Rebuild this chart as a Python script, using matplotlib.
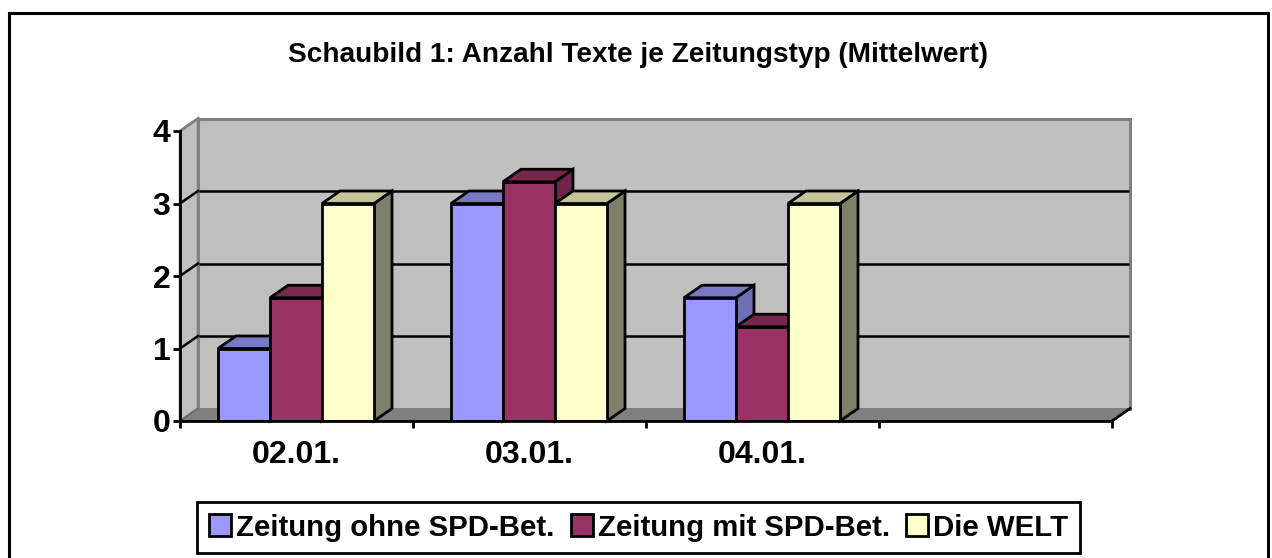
#!/usr/bin/python
import numpy as np
import matplotlib
matplotlib.use('Agg')
import matplotlib.pyplot as plt
from matplotlib.patches import Polygon, Rectangle, Patch

plt.rcParams['font.family'] = ['Liberation Sans', 'DejaVu Sans']

title = 'Schaubild 1: Anzahl Texte je Zeitungstyp (Mittelwert)'
days = ['02.01.', '03.01.', '04.01.', '']
series_names = ['Zeitung ohne SPD-Bet.', 'Zeitung mit SPD-Bet.', 'Die WELT']
ohne_spd = [1.0, 3.0, 1.7]
mit_spd = [1.7, 3.3, 1.3]
die_welt = [3.0, 3.0, 3.0]

front = ['#9999ff', '#993366', '#ffffcc']
top = ['#7878c4', '#78284f', '#c4c49c']
side = ['#6f6fb8', '#6f254a', '#80806a']

W, H = 1272, 558
fig = plt.figure(figsize=(W / 100, H / 100), dpi=100)
# outer frame, runs off the bottom of the picture
fig.add_artist(Rectangle((8.5 / W, -0.02), 1259.5 / W, 1.02 - 12.5 / H, fill=False,
                         ec='black', lw=2.2, transform=fig.transFigure))

# axes = front plane of the fake 3d box
ax = fig.add_axes([180 / W, 1 - 421 / H, 932 / W, 290 / H])
ax.set_xlim(0, 4)
ax.set_ylim(0, 4)
for s in ['top', 'right']:
    ax.spines[s].set_visible(False)
for s in ['left', 'bottom']:
    ax.spines[s].set_linewidth(2)
    ax.spines[s].set_zorder(60)

dx = 18 / 233.0
dy = 12.5 / 72.5
lw = 2.0

# floor, side wall and back wall
ax.add_patch(Polygon([(0, 0), (dx, dy), (4 + dx, dy), (4, 0)], fc='#808080', ec='#555555',
                     lw=1, clip_on=False, zorder=1))
ax.add_patch(Polygon([(0, 0), (dx, dy), (dx, 4 + dy), (0, 4)], fc='#c0c0c0', ec='#808080',
                     lw=1.8, clip_on=False, zorder=1))
ax.add_patch(Rectangle((dx, dy), 4, 4, fc='#c0c0c0', ec='#808080', lw=2.2, clip_on=False, zorder=1))
ax.plot([4, 4 + dx], [0, dy], color='black', lw=lw, clip_on=False, zorder=2)
ax.plot([0, dx], [0, dy], color='#666666', lw=1, clip_on=False, zorder=2)

# gridlines on the back wall, slanted part on the side wall
for v in [1, 2, 3]:
    ax.plot([dx + 0.005, 4 + dx - 0.005], [v + dy, v + dy], color='black', lw=1.8,
            solid_capstyle='butt', clip_on=False, zorder=2)
    ax.plot([0, dx], [v, v + dy], color='black', lw=1.8, clip_on=False, zorder=2)
ax.plot([0, dx], [4, 4 + dy], color='#808080', lw=1.8, clip_on=False, zorder=2)

bar_w = 52 / 233.0
offset = 38 / 233.0
values = [ohne_spd, mit_spd, die_welt]
z = 3
for g in range(len(ohne_spd)):
    for i in range(3):
        x0 = g + offset + i * bar_w
        v = values[i][g]
        ax.add_patch(Polygon([(x0 + bar_w, 0), (x0 + bar_w + dx, dy), (x0 + bar_w + dx, v + dy),
                              (x0 + bar_w, v)], fc=side[i], ec='black', lw=lw, clip_on=False, zorder=z))
        ax.add_patch(Polygon([(x0, v), (x0 + dx, v + dy), (x0 + bar_w + dx, v + dy),
                              (x0 + bar_w, v)], fc=top[i], ec='black', lw=lw, clip_on=False, zorder=z))
        ax.bar(x0, v, bar_w, align='edge', color=front[i], ec='black', lw=lw, zorder=z + 1)
        z += 2

ax.set_yticks([0, 1, 2, 3, 4])
ax.set_xticks([0, 1, 2, 3, 4])
ax.set_xticklabels([])
ax.tick_params(axis='both', length=5, width=2, direction='out')
ax.tick_params(axis='y', labelsize=23, pad=2)
for lab in ax.get_yticklabels():
    lab.set_fontweight('bold')
for i, d in enumerate(days):
    ax.text(i + 0.5, -0.47, d, ha='center', va='center', fontsize=23, fontweight='bold')

fig.text(638.5 / W, 1 - 54.5 / H, title, ha='center', va='center', fontsize=20.2, fontweight='bold')

handles = [Patch(fc=c, ec='black', lw=2) for c in front]
leg = fig.legend(handles, series_names, loc='center', bbox_to_anchor=(638.5 / W, 1 - 527.5 / H),
                 ncol=3, fontsize=21.2, frameon=True, fancybox=False, framealpha=1, edgecolor='black',
                 handlelength=0.75, handleheight=0.75, handletextpad=0.17, columnspacing=0.56,
                 borderpad=0.38, borderaxespad=0)
leg.get_frame().set_linewidth(2)
for t in leg.get_texts():
    t.set_fontweight('bold')

plt.savefig('out.png', dpi=100)
